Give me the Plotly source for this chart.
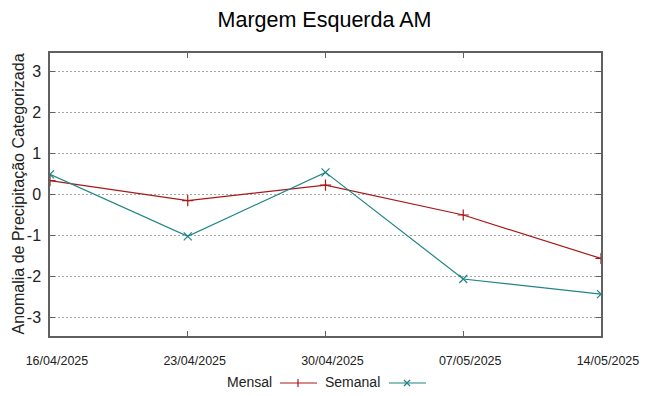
import plotly.graph_objects as go

dates = ["2025-04-16", "2025-04-23", "2025-04-30", "2025-05-07", "2025-05-14"]
tick_labels = ["16/04/2025", "23/04/2025", "30/04/2025", "07/05/2025", "14/05/2025"]
mensal = [0.34, -0.15, 0.23, -0.50, -1.56]
semanal = [0.49, -1.02, 0.54, -2.06, -2.43]
y_ticks = [-3, -2, -1, 0, 1, 2, 3]
y_tick_labels = ["-3", "-2", "-1", "0", "1", "2", "3"]

RED = "#a81818"
TEAL = "#1f8585"
FONT = "Liberation Sans"

fig = go.Figure()
fig.add_trace(go.Scatter(x=dates, y=mensal, mode="lines+markers", name="Mensal",
                         line=dict(color=RED, width=1.2),
                         marker=dict(symbol="cross-thin", size=8, line=dict(color=RED, width=1.2)),
                         showlegend=False))
fig.add_trace(go.Scatter(x=dates, y=semanal, mode="lines+markers", name="Semanal",
                         line=dict(color=TEAL, width=1.2),
                         marker=dict(symbol="x-thin", size=8, line=dict(color=TEAL, width=1.2)),
                         showlegend=False))

pad = "\u00a0" * 4
fig.update_layout(
    width=649, height=396,
    margin=dict(l=50, r=48, t=53, b=60),
    paper_bgcolor="white", plot_bgcolor="white",
    font=dict(family=FONT, color="#222"),
    title=dict(text="Margem Esquerda AM", x=0.5, xanchor="center", y=0.95, yanchor="middle",
               font=dict(size=21.5, family=FONT, color="black")),
    xaxis=dict(type="date", range=[dates[0], dates[-1]], tickvals=dates,
               ticktext=[pad + t for t in tick_labels],
               showgrid=False, showline=True, linecolor="#606060", linewidth=1.5, mirror="ticks",
               ticks="inside", ticklen=5, tickcolor="#606060",
               tickfont=dict(size=12.5, color="#222"),
               ticklabelstandoff=12, zeroline=False, automargin=False),
    yaxis=dict(range=[-3.45, 3.45], tickvals=y_ticks, ticktext=y_tick_labels, showgrid=True,
               gridcolor="#a8a8a8", griddash="2px,2px", gridwidth=1, showline=True, linecolor="#606060",
               linewidth=1.5, mirror="ticks", ticks="inside", ticklen=5, tickcolor="#606060",
               tickfont=dict(size=16, color="#222"), ticklabelstandoff=4, zeroline=False,
               automargin=False),
)

def px2paper_x(px):
    return (px - 50) / (649 - 50 - 48)

def px2paper_y(py):
    return (396 - 60 - py) / (396 - 53 - 60)

# Y axis title
fig.add_annotation(text="Anomalia de Precipitação Categorizada", x=px2paper_x(18), y=0.5,
                   xref="paper", yref="paper", showarrow=False, textangle=-90,
                   xanchor="center", yanchor="middle", font=dict(size=16, color="#222"))

# Custom gnuplot-style legend (text left, sample right)
fig.add_annotation(text="Mensal", x=px2paper_x(274), y=px2paper_y(382), xref="paper", yref="paper",
                   showarrow=False, xanchor="right", yanchor="middle", font=dict(size=14, color="#222"))
fig.add_annotation(text="Semanal", x=px2paper_x(382), y=px2paper_y(382), xref="paper", yref="paper",
                   showarrow=False, xanchor="right", yanchor="middle", font=dict(size=14, color="#222"))

ly = px2paper_y(383)
fig.add_shape(type="line", xref="paper", yref="paper", x0=px2paper_x(280), x1=px2paper_x(317),
              y0=ly, y1=ly, line=dict(color=RED, width=1.2))
fig.add_shape(type="line", xref="paper", yref="paper", x0=px2paper_x(298), x1=px2paper_x(298),
              y0=px2paper_y(379), y1=px2paper_y(387), line=dict(color=RED, width=1.2))
fig.add_shape(type="line", xref="paper", yref="paper", x0=px2paper_x(389), x1=px2paper_x(426),
              y0=ly, y1=ly, line=dict(color=TEAL, width=1.2))
fig.add_shape(type="line", xref="paper", yref="paper", x0=px2paper_x(404), x1=px2paper_x(410),
              y0=px2paper_y(380), y1=px2paper_y(386), line=dict(color=TEAL, width=1.2))
fig.add_shape(type="line", xref="paper", yref="paper", x0=px2paper_x(404), x1=px2paper_x(410),
              y0=px2paper_y(386), y1=px2paper_y(380), line=dict(color=TEAL, width=1.2))

fig.write_html("out.html", config={"displayModeBar": False},
               post_script="document.body.style.margin='0';document.body.style.overflow='hidden';")
